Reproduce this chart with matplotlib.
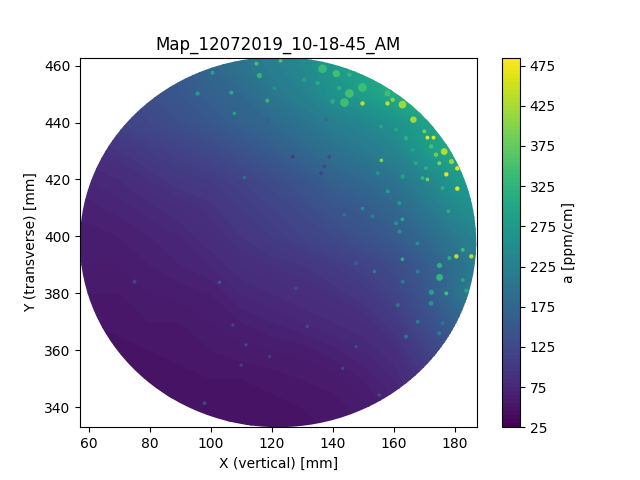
import numpy as np
import matplotlib
matplotlib.use("Agg")
import matplotlib.pyplot as plt
from matplotlib.patches import Ellipse

title = "Map_12072019_10-18-45_AM"
xlabel = "X (vertical) [mm]"
ylabel = "Y (transverse) [mm]"
cbar_label = "a [ppm/cm]"

# map values, 10 mm grid
x_mm = [50, 60, 70, 80, 90, 100, 110, 120, 130, 140, 150, 160, 170, 180, 190]
y_mm = [470, 460, 450, 440, 430, 420, 410, 400, 390, 380, 370, 360, 350, 340, 330]
a_470 = [120, 125, 130, 140, 160, 180, 200, 225, 245, 270, 295, 320, 340, 350, 350]
a_460 = [115, 120, 125, 135, 155, 175, 200, 220, 240, 270, 295, 320, 340, 350, 350]
a_450 = [110, 115, 120, 135, 150, 165, 180, 205, 225, 255, 280, 305, 325, 335, 340]
a_440 = [100, 105, 115, 125, 135, 150, 165, 180, 200, 220, 235, 255, 285, 310, 320]
a_430 = [85, 85, 95, 105, 115, 125, 140, 155, 175, 195, 210, 230, 270, 300, 310]
a_420 = [75, 75, 80, 90, 100, 105, 115, 130, 145, 165, 180, 200, 230, 270, 285]
a_410 = [68, 68, 72, 78, 85, 92, 105, 115, 128, 145, 155, 175, 205, 240, 260]
a_400 = [62, 62, 65, 70, 75, 85, 95, 105, 115, 125, 140, 155, 180, 210, 235]
a_390 = [60, 60, 60, 65, 70, 75, 85, 90, 95, 105, 115, 130, 155, 190, 225]
a_380 = [55, 55, 55, 60, 62, 65, 75, 80, 85, 90, 100, 115, 145, 190, 235]
a_370 = [50, 50, 52, 55, 55, 60, 65, 70, 75, 80, 85, 100, 130, 165, 200]
a_360 = [45, 45, 48, 50, 52, 55, 58, 60, 62, 68, 75, 85, 110, 140, 160]
a_350 = [42, 42, 45, 45, 48, 50, 50, 52, 55, 58, 65, 75, 95, 115, 130]
a_340 = [40, 40, 42, 42, 45, 46, 46, 48, 50, 52, 58, 68, 80, 95, 105]
a_330 = [40, 40, 40, 40, 42, 44, 44, 45, 48, 50, 55, 60, 75, 90, 100]

# local spots on top of the smooth map
spot_x = [149.7, 157.9, 162.8, 166.4, 171.0, 173.0, 176.5, 178.9, 177.2, 180.8, 180.8, 155.9,
          118.5, 171.0, 149.7, 162.8, 177.9, 143.8, 145.4, 149.7, 136.6, 141.1, 122.8, 157.9,
          114.9, 115.9, 100.5, 106.7, 118.5, 107.7, 95.6, 111.0, 180.5, 185.4, 175.0, 177.2,
          172.3, 162.8, 183.8, 175.0, 167.7, 153.6, 102.8, 131.6,
          170.0, 173.8, 172.2, 174.9, 170.5, 167.2, 166.2, 162.9, 169.4, 176.0, 161.8, 160.7,
          161.8, 153.0, 154.7, 158.0, 143.7, 145.4, 135.0, 130.6, 120.8, 142.1, 139.9, 159.6,
          155.8, 160.7, 164.0,
          182.6, 178.2, 182.6, 167.8, 162.9, 161.3, 167.8, 172.2, 174.9, 164.0, 147.6, 147.6,
          111.5, 127.9, 109.9, 97.9, 74.9, 107.2, 119.2, 143.2, 155.2, 176.0,
          138.8, 137.2, 136.1, 126.8, 118.6, 137.7]
spot_y = [446.7, 446.7, 446.3, 441.0, 434.7, 434.7, 429.8, 426.3, 421.8, 423.9, 416.8, 426.7,
          447.7, 420.0, 409.8, 406.0, 408.8, 447.0, 450.2, 452.3, 458.9, 457.2, 461.7, 450.2,
          460.7, 456.5, 457.5, 450.5, 447.7, 443.2, 450.2, 420.7, 393.0, 393.0, 385.6, 380.0,
          380.4, 392.0, 381.0, 389.8, 397.5, 387.7, 383.9, 368.4,
          436.9, 428.7, 431.6, 425.7, 424.0, 425.7, 430.4, 421.0, 420.5, 417.0, 411.7, 404.6,
          401.7, 407.0, 422.2, 415.8, 407.6, 456.8, 453.9, 455.0, 452.0, 452.1, 447.4, 448.0,
          438.6, 437.5, 434.5,
          395.3, 392.4, 384.7, 387.7, 384.1, 375.9, 370.0, 376.5, 366.0, 364.8, 390.6, 361.3,
          361.9, 381.8, 354.8, 341.4, 384.1, 368.9, 357.8, 353.7, 344.3, 369.5,
          428.0, 424.6, 422.2, 428.0, 441.0, 441.0]
spot_a = [440, 440, 420, 420, 470, 470, 430, 410, 470, 470, 470, 400,
          320, 390, 250, 310, 320, 340, 345, 340, 335, 345, 360, 345,
          350, 330, 300, 310, 330, 290, 280, 200, 440, 430, 330, 350,
          290, 310, 290, 320, 270, 220, 155, 135,
          390, 380, 350, 400, 320, 310, 300, 290, 330, 320, 290, 270,
          270, 240, 270, 290, 210, 330, 310, 290, 265, 320, 310, 400,
          300, 300, 320,
          340, 320, 300, 240, 220, 210, 220, 270, 230, 200, 170, 130,
          120, 130, 110, 115, 120, 120, 105, 125, 130, 210,
          130, 125, 120, 110, 160, 185]
spot_s = [10, 10, 30, 22, 8, 8, 24, 14, 10, 10, 10, 7,
          7, 7, 7, 7, 7, 40, 40, 40, 40, 28, 7, 18,
          8, 14, 8, 8, 8, 7, 10, 6, 10, 10, 24, 8,
          14, 7, 10, 14, 7, 7, 6, 6,
          8, 10, 10, 8, 8, 8, 8, 10, 8, 8, 8, 8,
          8, 7, 8, 8, 6, 10, 10, 10, 8, 10, 12, 10,
          8, 8, 10,
          8, 8, 8, 8, 8, 8, 8, 12, 8, 8, 8, 6,
          6, 6, 6, 8, 8, 6, 6, 6, 6, 8,
          8, 8, 8, 8, 6, 8]

a_map = np.array([a_470, a_460, a_450, a_440, a_430, a_420, a_410, a_400,
                  a_390, a_380, a_370, a_360, a_350, a_340, a_330], dtype=float)

fig, ax = plt.subplots()
levels = np.arange(25, 490, 5)
cs = ax.contourf(x_mm, y_mm, a_map, levels=levels, cmap="viridis")
pts = ax.scatter(spot_x, spot_y, c=spot_a, s=spot_s, cmap="viridis",
                 vmin=25, vmax=485, linewidths=0)

# wafer outline
wafer = Ellipse((122, 398), 130, 130, transform=ax.transData)
cs.set_clip_path(wafer)
pts.set_clip_path(wafer)

ax.set_xlim(57.05, 187.2)
ax.set_ylim(333, 462.8)
ax.set_title(title)
ax.set_xlabel(xlabel)
ax.set_ylabel(ylabel)
cbar = fig.colorbar(cs, ticks=np.arange(25, 500, 50))
cbar.set_label(cbar_label)
plt.savefig("out.png", dpi=100)
